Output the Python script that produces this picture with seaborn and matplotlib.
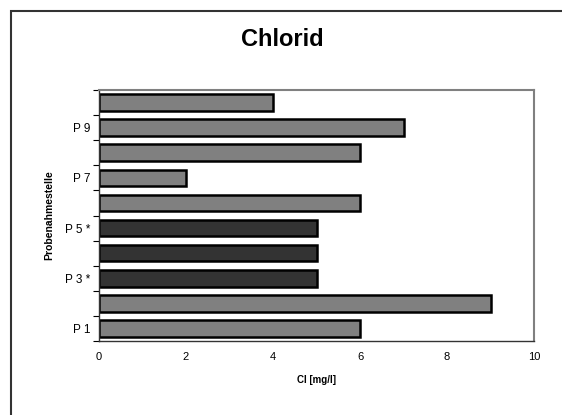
import numpy as np
import matplotlib
matplotlib.use('Agg')
import matplotlib.pyplot as plt
import seaborn as sns
import pandas as pd
from matplotlib.patches import Rectangle
from matplotlib.ticker import FixedLocator

stellen = ['P 1', 'P 2', 'P 3 *', 'P 4 *', 'P 5 *', 'P 6', 'P 7', 'P 8', 'P 9', 'P 10']
shown = ['P 1', '', 'P 3 *', '', 'P 5 *', '', 'P 7', '', 'P 9', '']
chlorid = [6, 9, 5, 5, 5, 6, 2, 6, 7, 4]
farben = ['#808080', '#808080', '#333333', '#333333', '#333333',
          '#808080', '#808080', '#808080', '#808080', '#808080']

sns.set_style('white')
plt.rcParams['font.family'] = ['Liberation Sans', 'DejaVu Sans']
plt.rcParams['text.color'] = 'black'
plt.rcParams['axes.labelcolor'] = 'black'
plt.rcParams['xtick.color'] = 'black'
plt.rcParams['ytick.color'] = 'black'

df = pd.DataFrame({'stelle': stellen, 'cl': chlorid})
order = stellen[::-1]
pal = dict(zip(stellen, farben))

fig = plt.figure(figsize=(5.62, 4.15), dpi=100)
ax = fig.add_axes([99 / 562, 1 - 341 / 415, (534 - 99) / 562, (341 - 90) / 415])

sns.barplot(data=df, x='cl', y='stelle', hue='stelle', order=order, hue_order=order,
            palette=pal, orient='h', width=0.66, edgecolor='black', linewidth=1.8,
            saturation=1, legend=False, ax=ax)

ax.set_xlim(0, 10)
ax.set_ylim(9.5, -0.5)
ax.set_xticks([0, 2, 4, 6, 8, 10])
ax.tick_params(axis='x', labelsize=8, length=4, width=0.8, direction='inout', pad=6)

pos = {s: i for i, s in enumerate(order)}
ax.yaxis.set_major_locator(FixedLocator(np.arange(-0.5, 10, 1)))
ax.set_yticklabels([])
ax.yaxis.set_minor_locator(FixedLocator([pos[s] for s in stellen]))
ax.set_yticklabels(shown, minor=True)
ax.tick_params(axis='y', which='major', length=4, width=0.8, direction='out', left=True)
ax.tick_params(axis='y', which='minor', length=0, labelsize=8.5, pad=6)

for s in ['top', 'right']:
    ax.spines[s].set_color('#808080')
    ax.spines[s].set_linewidth(1.5)
for s in ['left', 'bottom']:
    ax.spines[s].set_color('#333333')
    ax.spines[s].set_linewidth(1.0)

ax.set_xlabel('Cl [mg/l]', fontsize=7, fontweight='bold', labelpad=9)
ax.set_ylabel('Probenahmestelle', fontsize=7.5, fontweight='bold', labelpad=8)
fig.text(282 / 562, 1 - 40 / 415, 'Chlorid', fontsize=17, fontweight='bold',
         ha='center', va='center')

fig.patches.append(Rectangle((11 / 562, -0.2), 1.2, 1.2 - 11 / 415, transform=fig.transFigure,
                             fill=False, edgecolor='#333333', linewidth=1.5))

fig.savefig('out.png', dpi=100)
